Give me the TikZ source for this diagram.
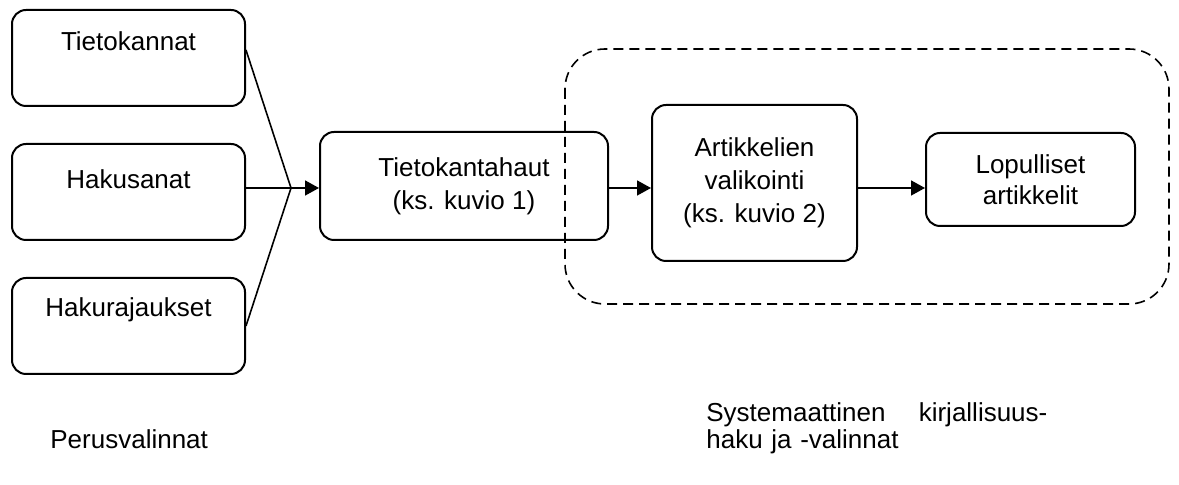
\documentclass[tikz,border=0pt]{standalone}
\usepackage{fontspec}
\setmainfont{Liberation Sans}
\usetikzlibrary{arrows.meta}

\begin{document}
\begin{tikzpicture}[x=0.5pt, y=-0.5pt, >={Triangle[length=7pt, width=7.5pt]},
    font=\fontsize{13pt}{16.5pt}\selectfont,
    stagebox/.style={draw, line width=1pt, rounded corners=7pt, inner sep=0pt, align=center},
    inputbox/.style={stagebox, minimum width=116.5pt, minimum height=48pt, text height=9.5pt},
    link/.style={line width=0.8pt}]

    \useasboundingbox (0,0) rectangle (1179,485);

    % ── Basic choices (left column) ─────────────────────────────────────────
    \node[inputbox, text depth=16.5pt] (dbs)    at (128.5,58)  {Tietokannat};
    \node[inputbox, text depth=13pt]   (words)  at (128.5,192) {Hakusanat};
    \node[inputbox, text depth=18.5pt] (limits) at (128.5,326) {Hakurajaukset};

    % ── Search and selection stages ─────────────────────────────────────────
    \node[stagebox, minimum width=144pt, minimum height=54pt] (searches)
        at (464,186) {Tietokantahaut\\(ks. kuvio 1)};
    \node[stagebox, minimum width=102.5pt, minimum height=78pt] (select)
        at (754.5,183) {Artikkelien\\valikointi\\(ks. kuvio 2)};
    \node[stagebox, minimum width=104.5pt, minimum height=46.5pt,
          font=\fontsize{13pt}{15.5pt}\selectfont] (final)
        at (1030.5,179.5) {Lopulliset\\artikkelit};

    % ── Dashed frame round the systematic part ──────────────────────────────
    \draw[line width=0.8pt, dash pattern=on 5pt off 3pt, rounded corners=20pt]
        (565,49) rectangle (1169,304);

    % ── Connectors ──────────────────────────────────────────────────────────
    \coordinate (join) at (291,188);
    \draw[link] ([yshift=4pt]dbs.east) -- (join);
    \draw[link] (words.east |- join) -- (join);
    \draw[link] (limits.east) -- (join);
    \draw[link, ->] (join) -- (join -| searches.west);
    \draw[link, ->] (searches.east |- join) -- (select.west |- join);
    \draw[link, ->] (select.east |- join) -- (final.west |- join);

    % ── Captions ────────────────────────────────────────────────────────────
    \node[anchor=base west, inner sep=0pt] (basic) at (50,449) {Perusvalinnat};
    \node[anchor=base west, inner sep=0pt, text width=170.5pt, align=left,
          font=\fontsize{13pt}{13.5pt}\selectfont] (systematic)
        at (706,422) {Systemaattinen\hfill kirjallisuus-\\haku ja -valinnat};

\end{tikzpicture}
\end{document}
